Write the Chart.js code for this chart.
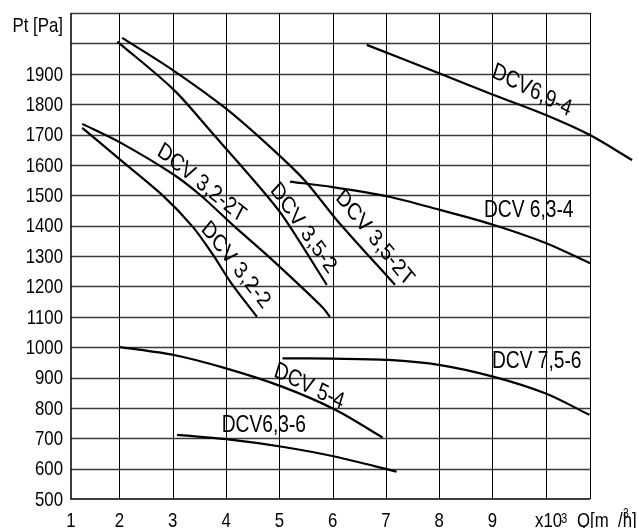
<!DOCTYPE html>
<html>
<head>
<meta charset="utf-8">
<script src="https://cdn.jsdelivr.net/npm/chart.js@4/dist/chart.umd.min.js"></script>
<style>
body{margin:0;background:#fff}
</style>
</head>
<body>
<canvas id="grafico" width="639" height="528"></canvas>
<script>
// curves: [Q (x10^3 m3/h), Pt (Pa)]
const dcv32_2T = [[1.3,1735],[2.0,1675],[3.0,1570],[3.52,1500],[4.14,1400],[4.8,1298],[5.8,1133],[5.95,1100]]
const dcv32_2  = [[1.3,1722],[2.0,1619],[2.82,1498],[3.38,1395],[3.75,1305],[4.1,1210],[4.58,1100]]
const dcv35_2  = [[1.96,2006],[3.02,1847],[3.77,1699],[4.51,1551],[5.05,1435],[5.89,1205]]
const dcv35_2T = [[2.05,2018],[3.0,1912],[4.0,1785],[4.82,1660],[5.48,1548],[6.08,1418],[7.17,1205]]
const dcv69_4  = [[6.64,1995],[8.02,1900],[9.01,1831],[9.99,1765],[10.82,1699],[11.62,1616]]
const dcv63_4  = [[5.2,1545],[6.0,1527],[7.04,1496],[8.01,1452],[9.01,1403],[10.01,1342],[10.83,1276]]
const dcv75_6  = [[5.06,963],[6.0,962],[7.04,958],[8.02,941],[9.01,903],[9.99,848],[10.82,777]]
const dcv5_4   = [[2.01,1000],[3.02,974],[4.0,930],[5.05,870],[6.06,793],[6.94,702]]
const dcv63_6  = [[3.08,711],[4.0,697],[5.05,672],[6.06,639],[7.2,590]]

const curves = [dcv32_2T, dcv32_2, dcv35_2, dcv35_2T, dcv69_4, dcv63_4, dcv75_6, dcv5_4, dcv63_6]

// curve names: [text, Q, Pt, angle in degrees]
const curveNames = [
    ['DCV 3,2-2T', 3.54, 1539, 39],
    ['DCV 3,2-2', 4.18, 1270, 52],
    ['DCV 3,5-2', 5.45, 1391, 55],
    ['DCV 3,5-2T', 6.79, 1358, 51],
    ['DCV6,9-4', 9.74, 1845, 27],
    ['DCV 6,3-4', 9.68, 1451, 0],
    ['DCV 7,5-6', 9.83, 954, 0],
    ['DCV 5-4', 5.56, 870, 26],
    ['DCV6,3-6', 4.71, 744, 0]
]

// axes
const xMin = 1.09, xMax = 10.83
const xGrid = [2, 3, 4, 5, 6, 7, 8, 9, 10]
const xTickLabels = ['1', '2', '3', '4', '5', '6', '7', '8', '9']
const yMin = 500, yMax = 2100
const yGrid = [600, 700, 800, 900, 1000, 1100, 1200, 1300, 1400, 1500, 1600, 1700, 1800, 1900, 2000, 2100]
const yTickVals = [500, 600, 700, 800, 900, 1000, 1100, 1200, 1300, 1400, 1500, 1600, 1700, 1800, 1900]

const FONT = '"Liberation Sans", Arial, sans-serif'
const SQ = 0.8

function squish(ctx, text, x, y, deg) {
    ctx.save()
    ctx.translate(x, y)
    ctx.scale(SQ, 1)
    if (deg) ctx.rotate(Math.atan(SQ * Math.tan(deg * Math.PI / 180)))
    ctx.fillText(text, 0, 0)
    ctx.restore()
}

// grid drawn from the scales
const gridPlugin = {
    id: 'grid',
    beforeDatasetsDraw(chart) {
        const ctx = chart.ctx, xs = chart.scales.x, ys = chart.scales.y, a = chart.chartArea
        ctx.save()
        ctx.strokeStyle = '#3a3a3a'
        ctx.lineWidth = 1.4
        for (const v of yGrid) {
            const py = Math.round(ys.getPixelForValue(v)) + 0.5
            ctx.beginPath(); ctx.moveTo(a.left, py); ctx.lineTo(a.right, py); ctx.stroke()
        }
        ctx.strokeStyle = '#000'
        ctx.lineWidth = 1
        for (const v of xGrid) {
            const px = Math.round(xs.getPixelForValue(v)) + 0.5
            ctx.beginPath(); ctx.moveTo(px, a.top); ctx.lineTo(px, a.bottom); ctx.stroke()
        }
        const rx = Math.round(a.right) + 0.5
        ctx.beginPath(); ctx.moveTo(rx, a.top); ctx.lineTo(rx, a.bottom); ctx.stroke()
        ctx.lineWidth = 1.5
        ctx.beginPath()
        ctx.moveTo(a.left, a.top); ctx.lineTo(a.left, a.bottom); ctx.lineTo(a.right, a.bottom)
        ctx.stroke()
        ctx.restore()
    }
}

const textPlugin = {
    id: 'texts',
    afterDraw(chart) {
        const ctx = chart.ctx, xs = chart.scales.x, ys = chart.scales.y, a = chart.chartArea
        ctx.save()
        ctx.fillStyle = '#000'

        // y tick labels
        ctx.font = '21px ' + FONT
        ctx.textAlign = 'right'
        ctx.textBaseline = 'middle'
        for (const v of yTickVals) squish(ctx, String(v), a.left - 8, ys.getPixelForValue(v) + 1)
        ctx.textBaseline = 'alphabetic'
        squish(ctx, 'Pt [Pa]', a.left - 8, a.top + 19)

        // x tick labels
        ctx.textAlign = 'center'
        xTickLabels.forEach((t, i) => {
            const px = Math.max(a.left, xs.getPixelForValue(i + 1))
            squish(ctx, t, px, a.bottom + 28)
        })

        // x axis title
        ctx.textAlign = 'left'
        const bx = a.right - 55, by = a.bottom + 28
        squish(ctx, 'x10', bx, by)
        ctx.font = '14px ' + FONT
        squish(ctx, '3', bx + 26, by - 4)
        ctx.font = '21px ' + FONT
        squish(ctx, 'Q[m', bx + 42, by)
        squish(ctx, '/h]', bx + 83, by)
        ctx.font = '13px ' + FONT
        squish(ctx, '3', bx + 88, by - 10)

        // curve names
        ctx.font = '24px ' + FONT
        ctx.textAlign = 'center'
        ctx.textBaseline = 'middle'
        for (const [t, q, p, ang] of curveNames) {
            squish(ctx, t, xs.getPixelForValue(q), ys.getPixelForValue(p), ang)
        }
        ctx.restore()
    }
}

new Chart(document.getElementById('grafico').getContext('2d'), {
    type: 'scatter',
    data: {
        datasets: curves.map(c => ({
            data: c.map(p => ({x: p[0], y: p[1]})),
            showLine: true,
            borderColor: '#000',
            borderWidth: 2.2,
            pointRadius: 0,
            tension: 0.3,
            clip: false
        }))
    },
    options: {
        responsive: false,
        animation: false,
        layout: {padding: {left: 71, right: 49, top: 13, bottom: 29}},
        plugins: {legend: {display: false}, tooltip: {enabled: false}},
        scales: {
            x: {type: 'linear', display: false, min: xMin, max: xMax},
            y: {display: false, min: yMin, max: yMax}
        }
    },
    plugins: [gridPlugin, textPlugin]
})
</script>
</body>
</html>
